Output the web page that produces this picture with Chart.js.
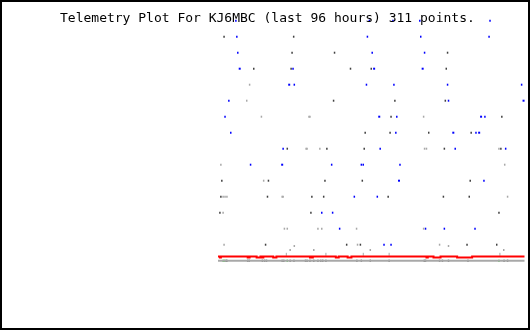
<!DOCTYPE html>
<html>
<head>
<meta charset="utf-8">
<script src="https://cdn.jsdelivr.net/npm/chart.js@4.4.1/dist/chart.umd.min.js"></script>
<style>
  body { margin: 0; background: #fff; }
  canvas { display: block; }
</style>
</head>
<body>
<canvas id="plot" width="530" height="330"></canvas>
<script>
const titleText = "Telemetry Plot For KJ6MBC (last 96 hours) 311 points.";

// x = hours into the 96 hour window, y = channel level
const bluePts = [
  [5.6, 15], [47.4, 15], [54.8, 15], [63.2, 15], [85.2, 15],
  [5.9, 14], [46.8, 14], [63.5, 14], [84.9, 14],
  [6.2, 13], [48.3, 13], [64.7, 13],
  [23.5, 12],
  [23.9, 11], [46.5, 11], [55.1, 11], [71.9, 11], [95.1, 11],
  [3.4, 10], [72.2, 10],
  [2.2, 9], [56.0, 9], [83.6, 9],
  [4.0, 8], [55.7, 8], [80.8, 8],
  [20.4, 7], [50.8, 7], [74.3, 7], [90.1, 7],
  [10.2, 6], [35.6, 6], [44.9, 6], [45.5, 6], [57.0, 6],
  [83.3, 5],
  [42.7, 4], [49.9, 4],
  [32.5, 3], [35.9, 3],
  [38.1, 2], [65.0, 2], [70.9, 2], [80.5, 2],
  [52.0, 1], [54.2, 1],
];
const blueBigPts = [
  [6.8, 12], [48.9, 12], [64.1, 12],
  [22.3, 11],
  [95.7, 10],
  [50.5, 9], [82.4, 9],
  [73.7, 8], [81.8, 8],
  [20.1, 6],
  [56.7, 5],
];
const darkPts = [
  [1.9, 14], [23.7, 14],
  [23.2, 13], [36.5, 13], [71.9, 13],
  [11.2, 12], [22.9, 12], [41.5, 12], [48.0, 12], [71.5, 12],
  [36.2, 10], [55.4, 10], [71.2, 10],
  [54.2, 9], [88.9, 9],
  [46.1, 8], [53.9, 8], [66.0, 8], [79.3, 8],
  [21.7, 7], [34.1, 7], [45.8, 7], [70.9, 7], [88.6, 7],
  [1.2, 5], [15.8, 5], [33.5, 5], [45.2, 5], [79.0, 5],
  [0.9, 4], [15.5, 4], [29.4, 4], [33.1, 4], [53.3, 4], [70.6, 4], [78.7, 4],
  [0.6, 3], [29.1, 3], [88.0, 3],
  [14.9, 1], [40.3, 1], [44.6, 1], [78.0, 1], [87.3, 1],
];
const lightPts = [
  [9.9, 11],
  [9.0, 10],
  [13.6, 9], [28.5, 9], [28.8, 9], [64.4, 9],
  [27.6, 7], [27.9, 7], [31.9, 7], [64.7, 7], [65.3, 7], [88.0, 7],
  [0.9, 6], [89.8, 6],
  [14.3, 5],
  [1.6, 4], [2.2, 4], [2.8, 4], [20.1, 4], [20.4, 4], [90.7, 4],
  [1.6, 3],
  [20.8, 2], [21.7, 2], [31.3, 2], [32.5, 2], [43.4, 2], [64.4, 2],
  [1.9, 1], [43.7, 1], [69.4, 1],
  [23.9, 0.92], [72.2, 0.92],
  [22.6, 0.67], [30.0, 0.67], [47.7, 0.67], [89.5, 0.67],
];
const lightTicks = [[21.4, 0.4], [33.8, 0.4], [45.5, 0.4], [53.6, 0.4], [88.3, 0.4]];

// marks sitting on the grey base band
const bandDark = [
  [2.5, 0], [2.8, 0], [9.3, 0], [9.8, 0], [13.9, 0], [14.6, 0], [15.2, 0],
  [20.1, 0], [20.6, 0], [22.6, 0], [23.8, 0], [27.4, 0], [27.9, 0], [28.8, 0],
  [30.0, 0], [31.3, 0], [32.2, 0], [32.8, 0], [33.8, 0], [43.5, 0], [44.9, 0],
  [47.7, 0], [53.6, 0], [64.6, 0], [65.0, 0], [69.4, 0], [70.3, 0], [72.2, 0],
  [78.3, 0], [89.6, 0], [90.7, 0],
];
const bandGreen = [[1.6, 0], [2.0, 0], [21.7, 0], [88.0, 0]];

// red trace: steady level with short dips (start hour, end hour)
const redBase = 0.26;
const redDip = 0.2;
const redDips = [
  [0.6, 0.9], [9.3, 9.9], [12.1, 13.3], [13.9, 14.2], [17.3, 18.3],
  [28.8, 29.1], [29.4, 29.7], [36.9, 37.8], [40.6, 41.8], [65.3, 65.7],
  [67.5, 69.7], [74.9, 79.6],
];

const redPts = [[0, redBase]];
redDips.forEach(([a, b]) => {
  redPts.push([a, redBase], [a, redDip], [b, redDip], [b, redBase]);
});
redPts.push([96, redBase]);

function tickSet(data, color, extra) {
  return Object.assign({
    data: data,
    pointStyle: "line",
    rotation: 90,
    pointRadius: 1,
    borderWidth: 1.5,
    borderColor: color,
    backgroundColor: color,
    clip: false,
  }, extra || {});
}

const framePlugin = {
  id: "frame",
  beforeDraw(chart) {
    const c = chart.ctx;
    c.save();
    c.fillStyle = "#fff";
    c.fillRect(0, 0, chart.width, chart.height);
    c.restore();
  },
  afterDraw(chart) {
    const c = chart.ctx;
    c.save();
    c.fillStyle = "#000";
    c.font = '13px "DejaVu Sans Mono"';
    c.textBaseline = "alphabetic";
    c.fillText(titleText, 60, 22);
    c.strokeStyle = "#000";
    c.lineWidth = 2;
    c.strokeRect(1, 1, chart.width - 2, chart.height - 2);
    c.restore();
  },
};

const ctx = document.getElementById("plot").getContext("2d");
const plot = new Chart(ctx, {
  type: "scatter",
  data: {
    datasets: [
      {
        data: [[0, 0], [96, 0]],
        showLine: true,
        pointRadius: 0,
        borderColor: "#a8a8a8",
        borderWidth: 2,
        clip: false,
      },
      tickSet(bandDark, "#404040"),
      tickSet(bandGreen, "#00e000"),
      {
        data: redPts,
        showLine: true,
        pointRadius: 0,
        borderColor: "#ff0000",
        borderWidth: 2,
        borderJoinStyle: "miter",
        clip: false,
      },
      tickSet(lightTicks, "#a8a8a8", { pointRadius: 1.5, borderWidth: 1 }),
      tickSet(lightPts, "#a8a8a8"),
      tickSet(darkPts, "#404040"),
      tickSet(bluePts, "#0000ff"),
      {
        data: blueBigPts,
        pointStyle: "rect",
        pointRadius: 1.42,
        borderWidth: 0,
        backgroundColor: "#0000ff",
        clip: false,
      },
    ],
  },
  options: {
    responsive: false,
    animation: false,
    events: [],
    layout: {
      padding: { left: 218, right: 2, top: 19.1, bottom: 67.7 },
    },
    scales: {
      x: { type: "linear", min: 0, max: 96, display: false },
      y: { type: "linear", min: -0.1, max: 15.1, display: false },
    },
    plugins: {
      legend: { display: false },
      tooltip: { enabled: false },
    },
  },
  plugins: [framePlugin],
});
</script>
</body>
</html>
